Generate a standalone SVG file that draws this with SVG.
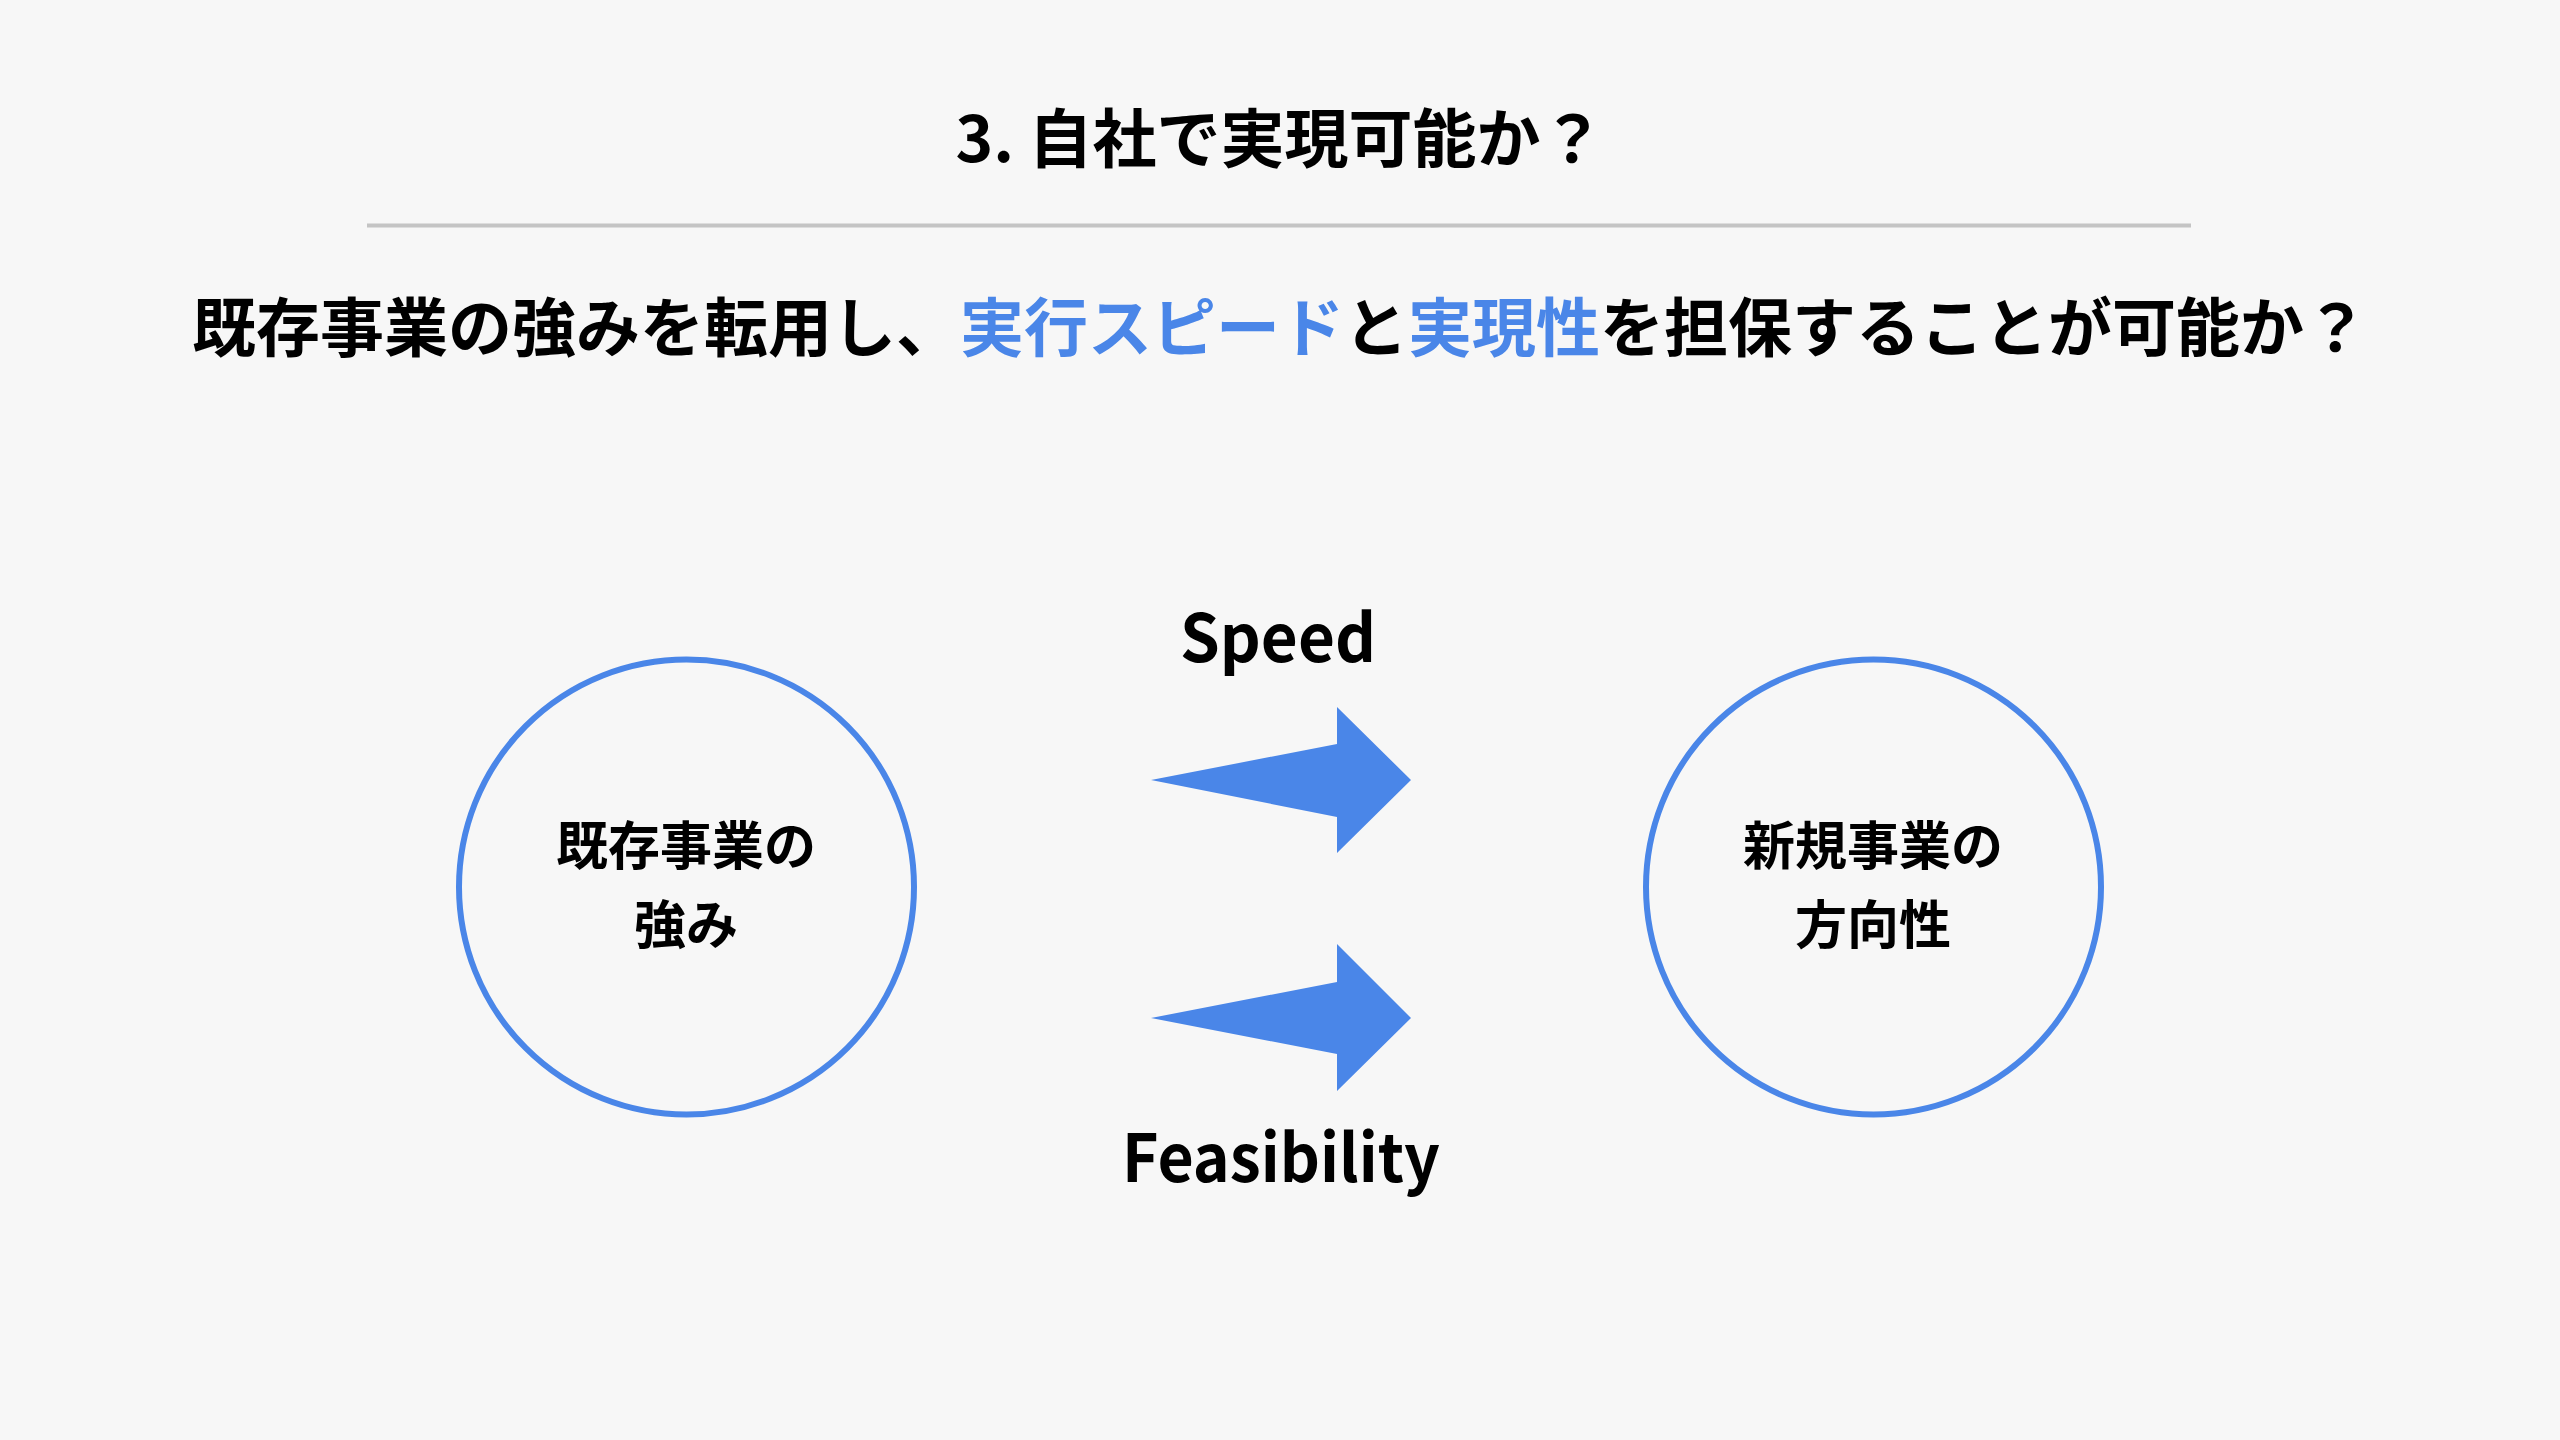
<svg xmlns="http://www.w3.org/2000/svg" width="2560" height="1440" viewBox="0 0 2560 1440">
  <style>
    .t { font-family: "Noto Sans CJK JP", "Noto Sans", sans-serif; font-weight: 700; fill: #000000; text-anchor: middle; }
    .hl { fill: #4a86e8; }
    .node { fill: none; stroke: #4a86e8; stroke-width: 6; }
    .arrow { fill: #4a86e8; stroke: none; }
  </style>
  <rect width="2560" height="1440" fill="#f7f7f7"/>
  <g id="header">
    <text class="t" x="1280" y="162" font-size="64">3. 自社で実現可能か？</text>
    <line x1="367" y1="225.5" x2="2191" y2="225.5" stroke="#c4c4c4" stroke-width="4"/>
    <text class="t" x="1280" y="351" font-size="64">既存事業の強みを転用し、<tspan class="hl">実行スピード</tspan>と<tspan class="hl">実現性</tspan>を担保することが可能か？</text>
  </g>
  <g id="node-existing">
    <circle class="node" cx="686.5" cy="887" r="227.5"/>
    <text class="t" x="686" y="865" font-size="52">既存事業の</text>
    <text class="t" x="686" y="944" font-size="52">強み</text>
  </g>
  <g id="node-new">
    <circle class="node" cx="1873.5" cy="887" r="227.5"/>
    <text class="t" x="1873" y="865" font-size="52">新規事業の</text>
    <text class="t" x="1873" y="944" font-size="52">方向性</text>
  </g>
  <g id="connectors">
    <polygon class="arrow" points="1151,780 1337,744 1337,707 1411,780 1337,853 1337,817"/>
    <polygon class="arrow" points="1151,1018 1337,982 1337,944 1411,1018 1337,1091 1337,1054"/>
  </g>
  <g id="labels">
    <text class="t" x="1278" y="662" font-size="66" textLength="196" lengthAdjust="spacingAndGlyphs">Speed</text>
    <text class="t" x="1281" y="1182" font-size="66" textLength="318" lengthAdjust="spacingAndGlyphs">Feasibility</text>
  </g>
</svg>
